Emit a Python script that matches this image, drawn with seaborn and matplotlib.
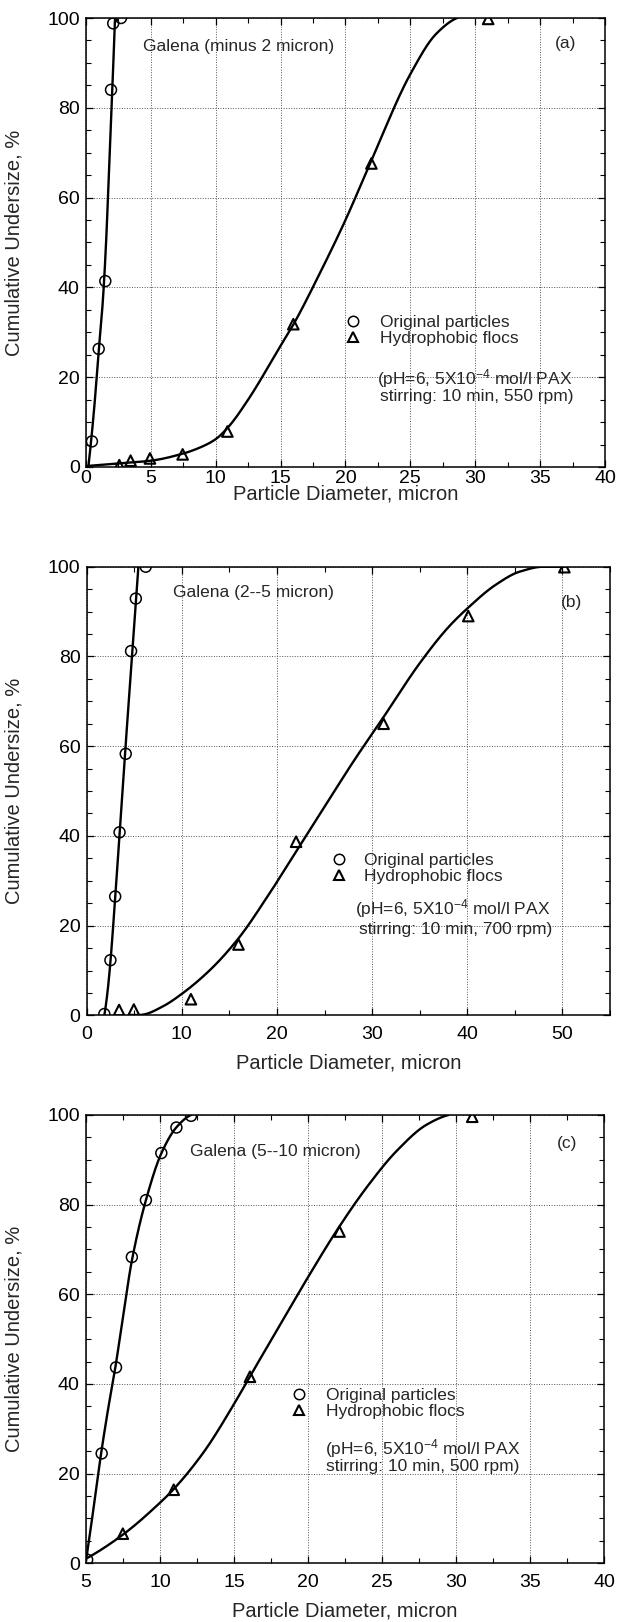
import numpy as np
import matplotlib
matplotlib.use("Agg")
import matplotlib.pyplot as plt
from matplotlib.lines import Line2D
from matplotlib.ticker import MultipleLocator
import seaborn as sns

# ---------------- measured size distributions ----------------
# (a) Galena, minus 2 micron
a_orig_x = [0.46, 0.98, 1.49, 1.93, 2.10, 2.70]
a_orig_y = [5.7, 26.3, 41.4, 84.0, 98.8, 100.0]
a_floc_x = [2.57, 3.44, 4.93, 7.45, 10.9, 15.98, 22.0, 31.0]
a_floc_y = [0.4, 1.4, 1.9, 2.8, 7.9, 31.8, 67.6, 99.8]

# (b) Galena, 2--5 micron
b_orig_x = [1.85, 2.49, 2.99, 3.45, 4.10, 4.66, 5.16, 6.20]
b_orig_y = [0.3, 12.3, 26.5, 40.8, 58.3, 81.2, 92.9, 100.0]
b_floc_x = [3.4, 4.95, 10.95, 15.95, 22.0, 31.2, 40.1, 50.2]
b_floc_y = [1.2, 1.3, 3.6, 15.8, 38.7, 65.0, 89.0, 99.9]

# (c) Galena, 5--10 micron
c_orig_x = [5.08, 6.06, 7.03, 8.10, 9.05, 10.09, 11.11, 12.10]
c_orig_y = [0.8, 24.5, 43.7, 68.3, 81.0, 91.5, 97.2, 99.8]
c_floc_x = [7.49, 10.93, 16.08, 22.13, 31.1]
c_floc_y = [6.6, 16.4, 41.6, 74.0, 99.6]

# ---------------- fitted curves (knots of the smooth fits) ----------------
a_fit_orig_x = [0.18, 0.6, 1.0, 1.3, 1.55, 1.8, 2.0, 2.24]
a_fit_orig_y = [0.0, 12.0, 26.5, 37.0, 50.0, 68.0, 82.0, 100.0]
a_fit_floc_x = [0.0, 2.5, 5.0, 7.5, 9.0, 10.0, 11.0, 12.5, 15.0, 16.0, 18.0,
                20.0, 22.0, 25.0, 27.0, 28.6]
a_fit_floc_y = [0.2, 0.8, 1.4, 3.0, 4.6, 6.2, 9.0, 15.0, 27.0, 31.8, 43.0,
                55.0, 68.3, 87.5, 96.5, 100.0]

b_fit_orig_x = [1.85, 2.2, 2.5, 3.0, 3.45, 3.7, 4.4, 5.0, 5.43]
b_fit_orig_y = [0.0, 5.5, 12.2, 26.5, 40.5, 48.5, 69.5, 87.5, 100.0]
b_fit_floc_x = [5.2, 6.0, 8.0, 10.0, 13.0, 16.0, 19.0, 22.0, 25.0, 28.0, 31.2,
                35.0, 38.0, 40.0, 43.0, 45.5, 48.0, 50.2]
b_fit_floc_y = [0.0, 0.2, 2.0, 4.8, 10.2, 17.3, 26.5, 36.5, 46.5, 56.5, 66.5,
                78.5, 86.5, 90.7, 96.0, 98.9, 100.0, 100.0]

c_fit_orig_x = [5.0, 5.5, 6.0, 6.5, 7.0, 7.5, 8.1, 9.05, 10.1, 11.1, 12.1]
c_fit_orig_y = [0.5, 12.0, 24.0, 34.5, 44.0, 55.0, 67.5, 81.0, 91.5, 97.2, 100.0]
c_fit_floc_x = [5.1, 7.5, 10.0, 11.0, 13.0, 15.0, 16.1, 18.0, 20.0, 22.0, 24.0,
                26.0, 28.0, 29.5]
c_fit_floc_y = [1.2, 6.4, 13.5, 16.8, 25.0, 35.5, 41.8, 52.5, 63.8, 74.5, 84.0,
                92.0, 97.8, 100.0]

# ---------------- labels ----------------
titles = ["Galena (minus 2 micron)", "Galena (2--5 micron)", "Galena (5--10 micron)"]
tags = ["(a)", "(b)", "(c)"]
rpms = ["550", "700", "500"]
legend_labels = ["Original particles", "Hydrophobic flocs"]
x_label = "Particle Diameter, micron"
y_label = "Cumulative Undersize, %"


def pchip(x, y, n=400):
    """Shape-preserving cubic through the knots, evaluated on a fine grid."""
    x = np.asarray(x, float)
    y = np.asarray(y, float)
    h = np.diff(x)
    d = np.diff(y) / h
    m = np.zeros_like(x)
    for k in range(1, len(x) - 1):
        if d[k - 1] * d[k] > 0:
            w1 = 2 * h[k] + h[k - 1]
            w2 = h[k] + 2 * h[k - 1]
            m[k] = (w1 + w2) / (w1 / d[k - 1] + w2 / d[k])
    for k0, hh, dd in ((0, h, d), (-1, h[::-1], d[::-1])):
        e = ((2 * hh[0] + hh[1]) * dd[0] - hh[0] * dd[1]) / (hh[0] + hh[1])
        if np.sign(e) != np.sign(dd[0]):
            e = 0.0
        elif np.sign(dd[0]) != np.sign(dd[1]) and abs(e) > abs(3 * dd[0]):
            e = 3 * dd[0]
        m[k0] = e
    xs = np.linspace(x[0], x[-1], n)
    idx = np.clip(np.searchsorted(x, xs) - 1, 0, len(x) - 2)
    t = (xs - x[idx]) / h[idx]
    h00 = 2 * t**3 - 3 * t**2 + 1
    h10 = t**3 - 2 * t**2 + t
    h01 = -2 * t**3 + 3 * t**2
    h11 = t**3 - t**2
    ys = h00 * y[idx] + h10 * h[idx] * m[idx] + h01 * y[idx + 1] + h11 * h[idx] * m[idx + 1]
    return xs, ys


sns.set_style("ticks")
plt.rcParams["font.family"] = ["Liberation Sans", "DejaVu Sans"]
plt.rcParams["mathtext.fontset"] = "custom"
plt.rcParams["mathtext.rm"] = "Liberation Sans"
plt.rcParams["mathtext.it"] = "Liberation Sans:italic"
plt.rcParams["mathtext.default"] = "rm"

fig = plt.figure(figsize=(6.28, 16.22), dpi=100)
fig.patch.set_facecolor("white")

panels = [
    dict(rect=[0.1369, 0.7121, 0.8264, 0.2768], xlim=(0, 40), xmaj=5, xmin=2.5,
         orig=(a_orig_x, a_orig_y), floc=(a_floc_x, a_floc_y),
         fo=(a_fit_orig_x, a_fit_orig_y), ff=(a_fit_floc_x, a_fit_floc_y),
         title_xy=(4.37, 93.6), tag_xy=(37.0, 94.4),
         leg=(0.4983, 0.305, 1.03), note1=(22.4, 19.6), note2=(22.66, 15.8),
         xpad=2.0, xlab_y=-0.040),
    dict(rect=[0.1381, 0.3740, 0.8333, 0.2766], xlim=(0, 55), xmaj=10, xmin=5,
         orig=(b_orig_x, b_orig_y), floc=(b_floc_x, b_floc_y),
         fo=(b_fit_orig_x, b_fit_orig_y), ff=(b_fit_floc_x, b_fit_floc_y),
         title_xy=(9.1, 94.2), tag_xy=(50.9, 92.0),
         leg=(0.4646, 0.327, 0.97), note1=(28.2, 23.7), note2=(28.6, 19.1),
         xpad=7.5, xlab_y=-0.0847),
    dict(rect=[0.1369, 0.0362, 0.8248, 0.2764], xlim=(5, 40), xmaj=5, xmin=2.5,
         orig=(c_orig_x, c_orig_y), floc=(c_floc_x, c_floc_y),
         fo=(c_fit_orig_x, c_fit_orig_y), ff=(c_fit_floc_x, c_fit_floc_y),
         title_xy=(12.06, 91.8), tag_xy=(37.5, 93.7),
         leg=(0.3952, 0.3565, 1.04), note1=(21.12, 25.6), note2=(21.2, 21.5),
         xpad=7.5, xlab_y=-0.0863),
]

for i, p in enumerate(panels):
    ax = fig.add_axes(p["rect"])
    ax.set_facecolor("white")

    # fitted curves
    for kx, ky in (p["fo"], p["ff"]):
        xs, ys = pchip(kx, ky)
        sns.lineplot(x=xs, y=ys, ax=ax, color="black", linewidth=1.7,
                     estimator=None, sort=False, zorder=3)

    # measured points
    sns.scatterplot(x=p["orig"][0], y=p["orig"][1], ax=ax, marker="o", s=62,
                    zorder=4, clip_on=True)
    pts = ax.collections[-1]
    pts.set_facecolor("none")
    pts.set_edgecolor("black")
    pts.set_linewidth(1.1)
    sns.scatterplot(x=p["floc"][0], y=p["floc"][1], ax=ax, marker="^", s=58,
                    zorder=4, clip_on=True)
    pts = ax.collections[-1]
    pts.set_facecolor("none")
    pts.set_edgecolor("black")
    pts.set_linewidth(1.5)

    ax.set_xlim(*p["xlim"])
    ax.set_ylim(0, 100)
    ax.xaxis.set_major_locator(MultipleLocator(p["xmaj"]))
    ax.xaxis.set_minor_locator(MultipleLocator(p["xmin"]))
    ax.yaxis.set_major_locator(MultipleLocator(20))
    ax.yaxis.set_minor_locator(MultipleLocator(5))

    ax.grid(True, which="major", linestyle=(0, (1, 1.6)), linewidth=0.7,
            color="#555555")
    ax.set_axisbelow(True)
    for sp in ax.spines.values():
        sp.set_visible(True)
        sp.set_linewidth(1.1)
        sp.set_color("black")
    ax.tick_params(which="both", direction="in", top=True, right=True,
                   colors="black", labelsize=14)
    ax.tick_params(which="major", length=5, width=0.9)
    ax.tick_params(which="minor", length=3.5, width=0.8)
    ax.tick_params(axis="x", which="major", pad=p["xpad"])
    ax.tick_params(axis="y", which="major", pad=4.5)

    ax.set_xlabel(x_label, fontsize=14.5)
    ax.set_ylabel(y_label, fontsize=14.5)
    ax.xaxis.set_label_coords(0.5, p["xlab_y"])
    ax.yaxis.set_label_coords(-0.12, 0.5)

    ax.text(*p["title_xy"], titles[i], fontsize=12.5, ha="left", va="center")
    ax.text(*p["tag_xy"], tags[i], fontsize=12.5, ha="center", va="center")
    ax.text(*p["note1"], "(pH=6, 5X10$^{-4}$ mol/l PAX", fontsize=12.5,
            ha="left", va="center")
    ax.text(*p["note2"], "stirring: 10 min, %s rpm)" % rpms[i], fontsize=12.5,
            ha="left", va="center")

    handles = [
        Line2D([], [], linestyle="none", marker="o", markersize=7.5,
               markerfacecolor="none", markeredgecolor="black", markeredgewidth=1.1),
        Line2D([], [], linestyle="none", marker="^", markersize=7.5,
               markerfacecolor="none", markeredgecolor="black", markeredgewidth=1.5),
    ]
    lx, ly, pad = p["leg"]
    ax.legend(handles, legend_labels, loc="center left", bbox_to_anchor=(lx, ly),
              bbox_transform=ax.transAxes, frameon=False, fontsize=12.5,
              handlelength=1.0, handletextpad=pad, labelspacing=0.05,
              borderpad=0.0, borderaxespad=0.0)

fig.savefig("out.png", dpi=100, facecolor="white")
